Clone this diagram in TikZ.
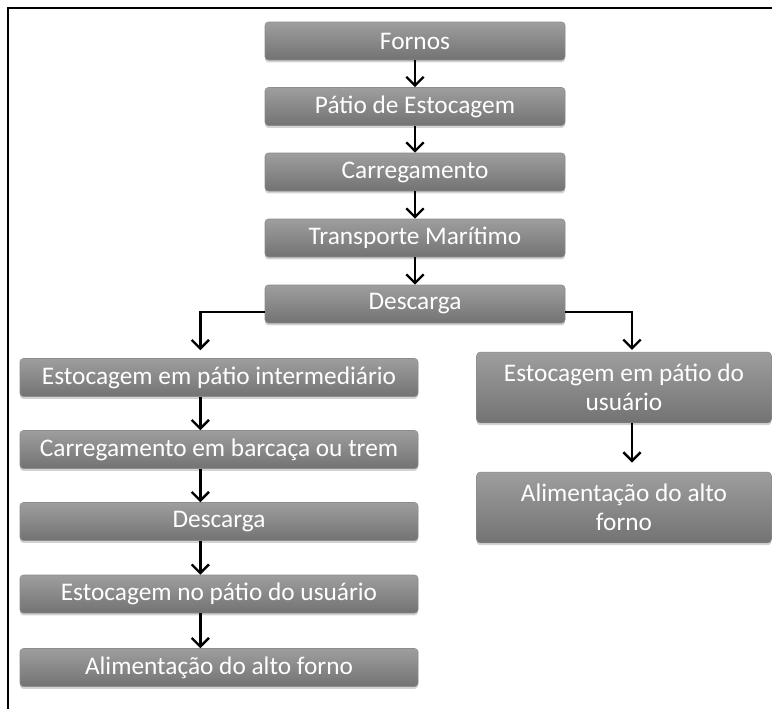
\documentclass[tikz,border=0pt]{standalone}
\usepackage{fontspec}
\setmainfont{Carlito}
\usepackage{xcolor}
\usepackage{tikz}
\usetikzlibrary{arrows.meta,shadows}

\tikzset{
    etapa/.style={draw=black!45, line width=0.4pt, rounded corners=2.5pt,
        top color=black!38, bottom color=black!55, text=white,
        minimum height=28.5pt, inner sep=1pt, align=center,
        drop shadow={opacity=0.35, shadow xshift=0pt, shadow yshift=-1.8pt}},
    seta/.style={line width=1.8pt, -{Straight Barb[length=6.5pt, width=13pt, line width=1.8pt]}}
}

\begin{document}
\begin{tikzpicture}[x=0.75pt, y=-0.75pt, every node/.style={font=\fontsize{19}{21.5}\selectfont}]
    \useasboundingbox (0,0) rectangle (772,708);
    % moldura
    \draw[line width=1.4pt] (8,8) rectangle (790,730);

    % coluna central
    \node[etapa, minimum width=225pt] (fornos) at (415,41) {Fornos};
    \node[etapa, minimum width=225pt] (patio) at (415,106.5) {Pátio de Estocagem};
    \node[etapa, minimum width=225pt] (carreg) at (415,172) {Carregamento};
    \node[etapa, minimum width=225pt] (transp) at (415,238) {Transporte Marítimo};
    \node[etapa, minimum width=225pt] (descarga) at (415,304) {Descarga};

    % ramo da esquerda
    \node[etapa, minimum width=298.5pt] (estint) at (219,377.5) {Estocagem em pátio intermediário};
    \node[etapa, minimum width=298.5pt] (barcaca) at (219,449.5) {Carregamento em barcaça ou trem};
    \node[etapa, minimum width=298.5pt] (descarga2) at (219,521.5) {Descarga};
    \node[etapa, minimum width=298.5pt] (estusu) at (219,594) {Estocagem no pátio do usuário};
    \node[etapa, minimum width=298.5pt] (altoforno) at (219,667.5) {Alimentação do alto forno};

    % ramo da direita
    \node[etapa, minimum width=221pt, minimum height=53pt] (estusu2) at (624,387.5) {Estocagem em pátio do\\usuário};
    \node[etapa, minimum width=221pt, minimum height=53pt] (altoforno2) at (624,507.5) {Alimentação do alto\\forno};

    % setas
    \draw[seta] (fornos) -- (patio);
    \draw[seta] (patio) -- (carreg);
    \draw[seta] (carreg) -- (transp);
    \draw[seta] (transp) -- (descarga);
    \draw[seta] ([yshift=-6pt]descarga.west) -| ([xshift=-14pt, yshift=6pt]estint.north);
    \draw[seta] ([yshift=-6pt]descarga.east) -| ([xshift=6pt, yshift=1.5pt]estusu2.north);
    \draw[seta] ([xshift=-14pt]estint.south) -- ([xshift=-14pt]barcaca.north);
    \draw[seta] ([xshift=-14pt]barcaca.south) -- ([xshift=-14pt]descarga2.north);
    \draw[seta] ([xshift=-14pt]descarga2.south) -- ([xshift=-14pt]estusu.north);
    \draw[seta] ([xshift=-14pt]estusu.south) -- ([xshift=-14pt]altoforno.north);
    \draw[seta] ([xshift=6pt]estusu2.south) -- ([xshift=6pt, yshift=7pt]altoforno2.north);
\end{tikzpicture}
\end{document}
